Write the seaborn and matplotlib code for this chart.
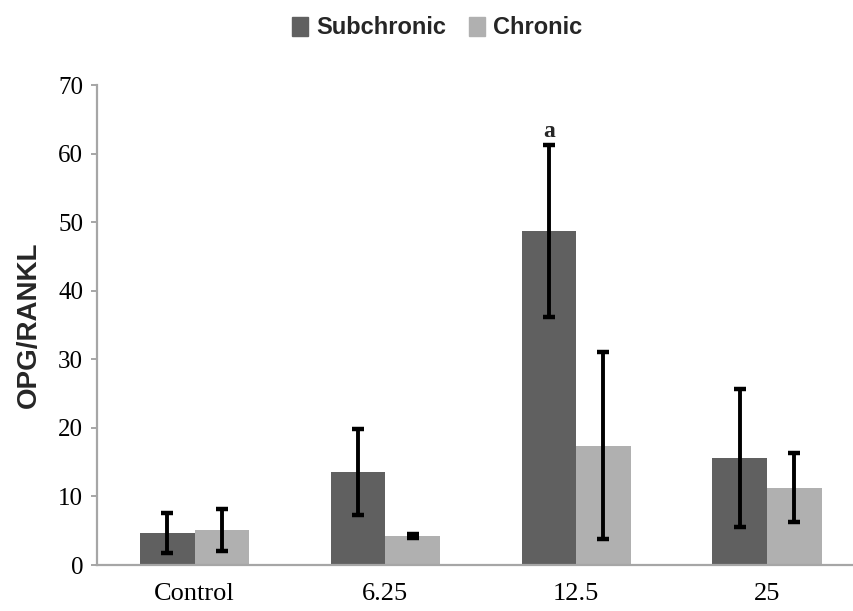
import pandas as pd
import numpy as np
import matplotlib
matplotlib.use('Agg')
import matplotlib.pyplot as plt
import seaborn as sns

# Values
doses = ['Control', '6.25', '12.5', '25']
groups = ['Subchronic', 'Chronic']
subchronic = [4.7, 13.6, 48.7, 15.6]
subchronic_err = [2.9, 6.3, 12.5, 10.0]
chronic = [5.1, 4.2, 17.4, 11.3]
chronic_err = [3.1, 0.3, 13.6, 5.0]
yticks = [0, 10, 20, 30, 40, 50, 60, 70]
sig_label = 'a'
sig_pos = ('12.5', 'Subchronic', 62.4)

sns.set_style('white')
plt.rcParams['font.family'] = ['Liberation Serif', 'DejaVu Serif']

data = pd.DataFrame({
    'Dose': doses * 2,
    'Group': ['Subchronic'] * 4 + ['Chronic'] * 4,
    'Value': subchronic + chronic,
})
errs = {'Subchronic': subchronic_err, 'Chronic': chronic_err}

fig = plt.figure(figsize=(8.54, 6.11), dpi=100)
ax = fig.add_axes([97 / 854, 1 - 565 / 611, 757 / 854, 480 / 611])

palette = {'Subchronic': '#606060', 'Chronic': '#b0b0b0'}
sns.barplot(data=data, x='Dose', y='Value', hue='Group', order=doses,
            hue_order=groups, palette=palette, width=0.572, saturation=1,
            errorbar=None, legend=False, linewidth=0, ax=ax)

# Error bars on top of each bar
for cont, grp in zip(ax.containers, groups):
    xs = [b.get_x() + b.get_width() / 2 for b in cont]
    ys = [b.get_height() for b in cont]
    ax.errorbar(xs, ys, yerr=errs[grp], fmt='none', ecolor='black',
                elinewidth=2.8, capsize=4, capthick=3.2, zorder=5)

# Significance letter
gi = groups.index(sig_pos[1])
bar = ax.containers[gi][doses.index(sig_pos[0])]
ax.text(bar.get_x() + bar.get_width() / 2, sig_pos[2], sig_label,
        ha='center', va='baseline', fontsize=17, fontweight='bold')

ax.set_xlim(-0.511, 3.456)
ax.set_ylim(0, 70)
ax.set_yticks(yticks)
ax.set_xlabel('')
ax.set_ylabel('OPG/RANKL', fontsize=20, fontweight='bold',
              family=['Liberation Sans', 'DejaVu Sans'], labelpad=12)

sns.despine(ax=ax)
for side in ['left', 'bottom']:
    ax.spines[side].set_color('#a6a6a6')
    ax.spines[side].set_linewidth(1.6)
ax.tick_params(axis='y', direction='out', length=4, width=1.4,
               color='#a6a6a6', labelsize=18, pad=6, left=True,
               labelcolor='black')
ax.tick_params(axis='x', length=0, labelsize=19, pad=13, labelcolor='black')

handles = [plt.Rectangle((0, 0), 1, 1, color=palette[g]) for g in groups]
fig.legend(handles, groups, loc='center', ncol=2, frameon=False,
           bbox_to_anchor=(437 / 854, 1 - 28 / 611),
           prop={'family': ['Liberation Sans', 'DejaVu Sans'],
                 'weight': 'bold', 'size': 17},
           handlelength=0.68, handleheight=0.85, handletextpad=0.35,
           columnspacing=0.95)

fig.savefig('out.png', dpi=100)
